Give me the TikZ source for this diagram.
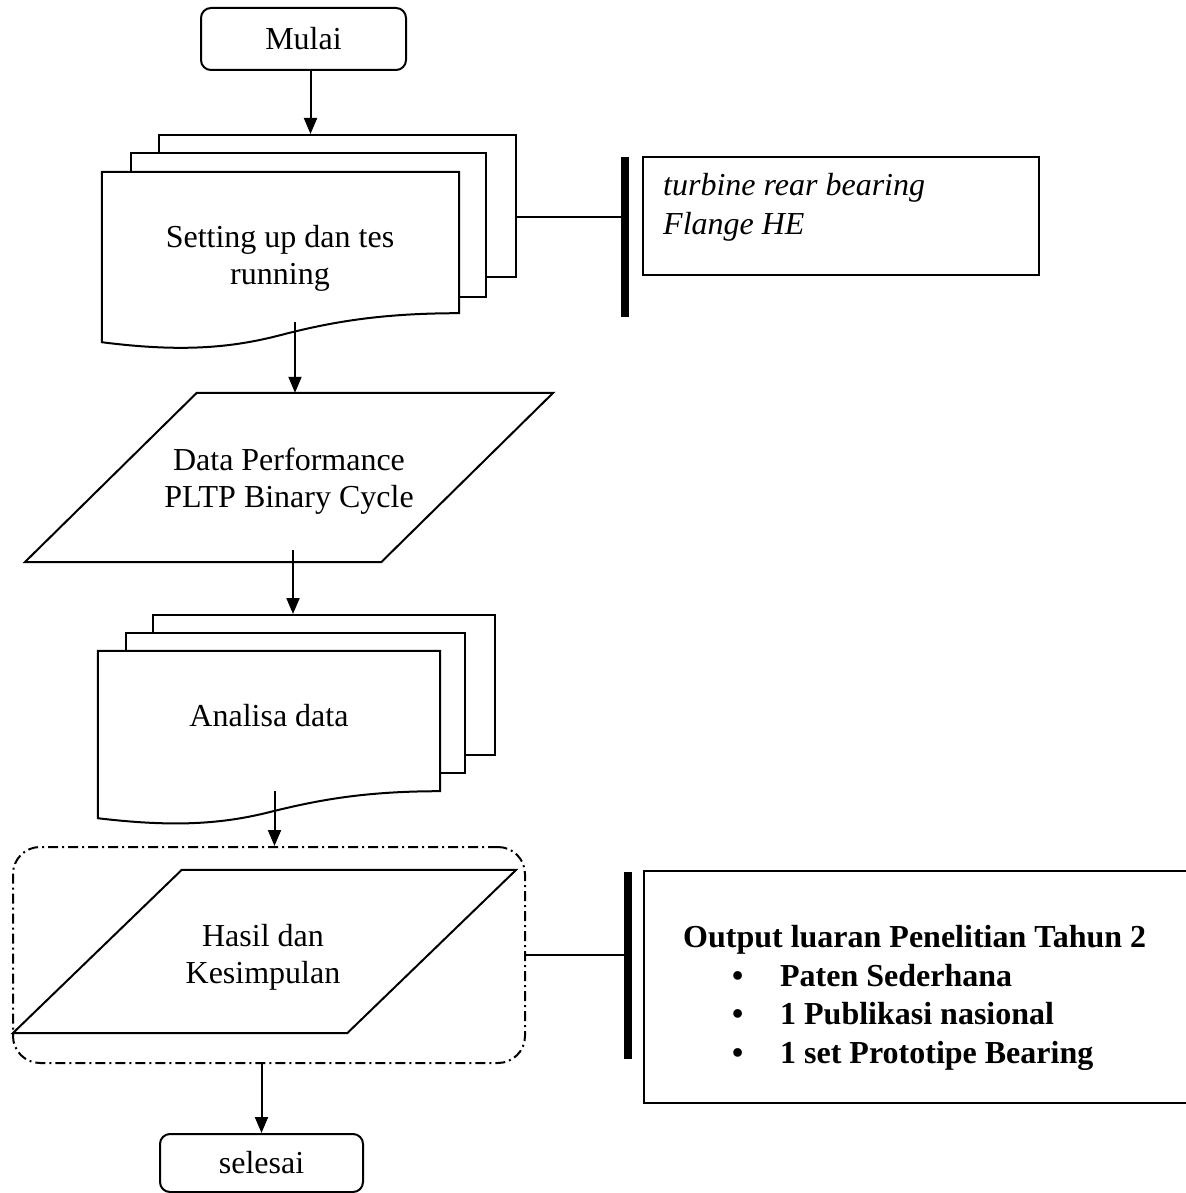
\documentclass[tikz,border=0pt]{standalone}
\usepackage{fontspec}
\setmainfont{Liberation Serif}
\usetikzlibrary{positioning,arrows.meta}
\tikzset{
    term/.style={draw, line width=2pt, rounded corners=10pt, inner sep=0pt},
    sheet/.style={draw, fill=white, line width=2pt, inner sep=0pt},
    frame/.style={draw, line width=2pt, inner sep=0pt},
    arr/.style={line width=2pt, -{Triangle[length=16pt,width=13pt]}},
    bar/.style={line width=7.5pt},
    link/.style={line width=2pt}
}

\begin{document}
\begin{tikzpicture}[x=1pt, y=-1pt, font=\fontsize{32}{37}\selectfont]
    \useasboundingbox (0,0) rectangle (1185,1193);

    % start
    \node[term, minimum width=205pt, minimum height=62pt] (mulai) at (303.5,39) {Mulai};

    % first document stack
    \node[sheet, minimum width=357pt, minimum height=142pt] (setupBack) at (337.5,206) {};
    \node[sheet, minimum width=355pt, minimum height=144pt] (setupMid) at (308.5,225) {};
    \node[inner sep=0pt, minimum width=357pt, minimum height=170pt] (setupFront) at (280.5,257) {};
    \draw[link, fill=white] (setupFront.north west) -- (setupFront.north east)
        -- ([yshift=29pt]setupFront.south east)
        .. controls +(-79,0) and +(50,-13) .. ++(-179,22)
        .. controls +(-50,13) and +(78,10) .. (setupFront.south west) -- cycle;
    \node[align=center] (setupText) at (280,258) {Setting up dan tes\\running};

    % side note
    \coordinate (bar1top) at (625,157);
    \coordinate (bar1bot) at (625,317);
    \coordinate (link1) at (621,217);
    \draw[bar] (bar1top) -- (bar1bot);
    \draw[link] (link1 -| setupBack.east) -- (link1);
    \node[frame, minimum width=396pt, minimum height=118pt] (turbineBox) at (841,216) {};
    \node[anchor=north west, inner sep=0pt, align=left,
        font=\fontsize{32}{39}\selectfont\itshape] (turbineText) at (663,173)
        {turbine rear bearing\\Flange HE};

    % data
    \node[inner sep=0pt, minimum width=528pt, minimum height=169pt] (data) at (289,477.5) {};
    \draw[link] ([xshift=172pt]data.north west) -- (data.north east)
        -- ([xshift=-172pt]data.south east) -- (data.south west) -- cycle;
    \node[align=center] (dataText) at (289,481) {Data Performance\\PLTP Binary Cycle};

    % second document stack
    \node[sheet, minimum width=342.5pt, minimum height=140pt] (analisaBack) at (323.75,685) {};
    \node[sheet, minimum width=339pt, minimum height=140pt] (analisaMid) at (295.5,703) {};
    \node[inner sep=0pt, minimum width=342pt, minimum height=167pt] (analisaFront) at (269,734.5) {};
    \draw[link, fill=white] (analisaFront.north west) -- (analisaFront.north east)
        -- ([yshift=27pt]analisaFront.south east)
        .. controls +(-76,0) and +(48,-12) .. ++(-171,21)
        .. controls +(-48,12) and +(75,9) .. (analisaFront.south west) -- cycle;
    \node (analisaText) at (269,716) {Analisa data};

    % result
    \node[draw, line width=2pt, rounded corners=27pt, inner sep=0pt,
        dash pattern=on 10pt off 4pt on 2pt off 4pt,
        minimum width=512pt, minimum height=216pt] (hasilBox) at (269,955) {};
    \node[inner sep=0pt, minimum width=503pt, minimum height=163pt] (hasil) at (264.5,951.5) {};
    \draw[link] ([xshift=169pt]hasil.north west) -- (hasil.north east)
        -- ([xshift=-169pt]hasil.south east) -- (hasil.south west) -- cycle;
    \node[align=center] (hasilText) at (263,957) {Hasil dan\\Kesimpulan};

    % output note
    \coordinate (bar2top) at (628,872);
    \coordinate (bar2bot) at (628,1059);
    \draw[bar] (bar2top) -- (bar2bot);
    \draw[link] (hasilBox.east) -- (hasilBox.east -| bar2top);
    \node[frame, minimum width=546pt, minimum height=232pt] (outputBox) at (917,987) {};
    \node[anchor=north west, inner sep=0pt, align=left,
        font=\fontsize{32}{38.7}\selectfont\bfseries] (outputText) at (683,925)
        {Output luaran Penelitian Tahun 2\\
         \hspace*{49pt}\makebox[48pt][l]{\textbullet}Paten Sederhana\\
         \hspace*{49pt}\makebox[48pt][l]{\textbullet}1 Publikasi nasional\\
         \hspace*{49pt}\makebox[48pt][l]{\textbullet}1 set Prototipe Bearing};

    % end
    \node[term, minimum width=203pt, minimum height=58pt] (selesai) at (261.5,1163) {selesai};

    % flow
    \coordinate (mulaiOut) at ([xshift=7pt]mulai.south);
    \coordinate (setupOut) at (295,322);
    \coordinate (dataOut) at (293,550);
    \coordinate (analisaOut) at (274.5,791);
    \draw[arr] (mulaiOut) -- (mulaiOut |- setupBack.north);
    \draw[arr] (setupOut) -- (setupOut |- data.north);
    \draw[arr] (dataOut) -- (dataOut |- analisaBack.north);
    \draw[arr] (analisaOut) -- (analisaOut |- hasilBox.north);
    \draw[arr] (selesai.north |- hasilBox.south) -- (selesai.north);

\end{tikzpicture}
\end{document}
